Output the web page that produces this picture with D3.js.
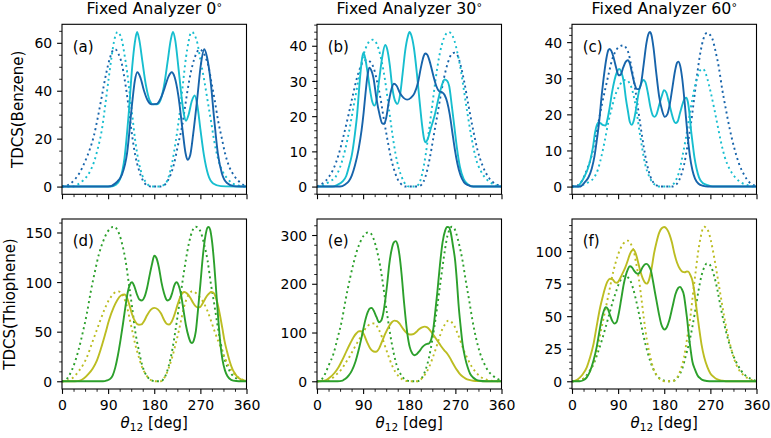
<!DOCTYPE html>
<html><head><meta charset="utf-8">
<script src="https://cdn.jsdelivr.net/npm/d3@7"></script>
<style>
body{margin:0;background:#fff}
svg{display:block}
text{font-family:"DejaVu Sans",sans-serif;fill:#000}
</style></head><body>
<svg id="chart" width="771" height="438"></svg>
<script>
// ---------------- DATA ----------------
const thetaTicks = [0, 90, 180, 270, 360];
const columnTitles = ["Fixed Analyzer 0", "Fixed Analyzer 30", "Fixed Analyzer 60"];
const rowLabels = ["TDCS(Benzene)", "TDCS(Thiophene)"];
const panelLetters = ["(a)", "(b)", "(c)", "(d)", "(e)", "(f)"];
const yTicksA = [0, 20, 40, 60];
const yTicksB = [0, 10, 20, 30, 40];
const yTicksC = [0, 10, 20, 30, 40];
const yTicksD = [0, 50, 100, 150];
const yTicksE = [0, 100, 200, 300];
const yTicksF = [0, 25, 50, 75, 100];

// (a) Benzene, analyzer 0 deg  [theta, TDCS]
const aBlueSolid = [[0,0],[90,0],[105,1.5],[117,5],[127,14],[137,35],[142,44],[147,47.7],[153,45.5],[160,40],[167,36],[175,34.3],[185,34.5],[193,37],[200,41],[208,46],[214,47.7],[220,45.5],[227,38],[235,24],[241,14],[245,11.2],[250,13],[256,22],[264,37],[271,51],[277.5,57.3],[283,54],[290,44],[297,28],[304,14],[312,5.5],[322,1.5],[335,0.2],[360,0]];
const aCyanSolid = [[0,0],[95,0],[105,0.8],[113,3],[122,12],[130,30],[137,50],[142,60],[146.5,64.5],[151,61],[157,52],[164,42],[171,36],[178,34.3],[185,34.3],[192,36],[199,42],[206,52],[212,61],[216.5,64.5],[221,61],[227,50],[233,38],[238,30],[242,27.5],[247,30],[253,35.5],[259,38],[264,34],[270,24],[277,13],[285,5],[295,1.3],[310,0.2],[360,0]];
const aBlueDot = [[0,0],[5,0.2],[15,1],[25,3],[35,6],[45,10.5],[55,16],[62,21],[70,29],[78,38],[86,47],[94,54],[100,57],[104,57.3],[110,55.5],[117,51],[122,45],[127,38],[132,29.5],[137,21],[143,13],[150,7],[158,2.5],[166,0.5],[175,0],[190,0],[198,0.4],[205,2],[212,5],[218,9],[226,17],[235,26],[242,36],[248,44],[255,51],[262,55.5],[268,57.3],[274,56.5],[280,54],[286,50],[292,43],[298,36],[305,27],[312,20],[318,14],[326,8.5],[336,4.5],[346,2],[355,0.6],[360,0.3]];
const aCyanDot = [[0,0],[20,0],[30,0.8],[40,2.3],[45,3.3],[55,6.5],[62,10],[70,16],[78,24],[85,35],[91,45],[96,53],[101,60],[105,63.5],[108.5,64.5],[112,63.8],[117,61],[122,55],[127,48],[132,39],[137,30],[143,19],[150,10],[157,4.5],[163,2],[170,0.4],[176,0],[189,0],[195,0.3],[202,1.2],[208,4],[215,10],[222,19],[228,28],[235,41],[242,54],[247,60.5],[251,64],[254,64.5],[258,63.5],[264,60],[270,53],[277,45],[284,36],[291,27],[297,19],[304,12],[313,6.5],[323,3.3],[333,1.3],[343,0.5],[355,0],[360,0]];

// (b) Benzene, analyzer 30 deg
const bBlueSolid = [[0,0],[45,0],[55,0.6],[62,1.5],[68,3.2],[74,6],[81,10.5],[87,16],[91,21],[95,27],[98.5,31.5],[102,33.8],[106,33],[110,31],[116,25],[122,20.5],[127,18],[131,17.8],[135,19.5],[140,24],[145,27.5],[150,29.2],[155,28.7],[162,26.5],[169,25.2],[176,24.7],[183,25.2],[190,26.5],[197,29.5],[203,34],[208,37],[211,37.8],[215,37.5],[220,35.5],[227,31.5],[233,28.5],[239,27],[244,26.8],[249,26],[254,24],[259,20.5],[264,15.5],[269,10.5],[274,6.5],[280,3.2],[287,1.2],[295,0.4],[305,0],[360,0]];
const bCyanSolid = [[0,0],[30,0],[40,0.5],[50,1.5],[57,3],[63,6],[68,9],[74,15],[78,20],[84,31],[88,36.5],[90.5,38],[94,36.5],[98,33],[104,27],[108,24],[112,23],[116,24.5],[121,30],[127,36.5],[133,40.2],[137,39],[142,34.5],[147,28],[152,24.5],[157,23.5],[162,26],[167,32],[172,38.5],[177,42.5],[180.5,43.9],[184,43],[189,39.5],[195,32],[200,24.5],[205,17.5],[209,13.5],[212,12.6],[216,13.5],[222,16.5],[230,20.5],[237,25],[243,28.5],[249,30.4],[254,30],[258,28.5],[263,23],[268,17],[273,11],[279,5.5],[286,2.2],[295,0.6],[305,0],[360,0]];
const bBlueDot = [[0,0],[5,0.4],[12,1],[22,2.5],[32,5],[42,9],[52,14.5],[61.5,20.4],[70,26],[78,30.9],[85,34],[91,35.6],[98,36],[104,35.4],[110.6,33.7],[117,30],[124,25],[130,19.5],[137,13.7],[143,9],[150,5],[157,2.2],[163,0.9],[172,0],[195,0],[203,0.4],[212,3],[220,8],[228,14.7],[235,20.5],[241.5,26],[248,31],[255,35],[262,37.5],[268,38],[274,37.3],[281,34],[287,30],[295,23.5],[304,16.6],[313,10.5],[323,6],[333,3],[343,1.3],[352,0.5],[360,0.2]];
const bCyanDot = [[0,0],[5,0.1],[15,0.6],[25,1.5],[35,2.5],[45,5.5],[55,10.5],[63,16],[71,22.5],[78,28],[84,33],[91,37.5],[98,40.3],[104,41.5],[109,41.7],[115,41],[120,39.2],[127,35],[133,30],[140,22.5],[147,15],[153,9.5],[160,5],[166,2.5],[173,0.6],[180,0],[192,0],[199,0.8],[205,3.5],[212,9],[218,15.5],[225,23.2],[231,30],[238,36.6],[243,40],[248,42.3],[253,43.6],[257,43.9],[262,43.4],[268,41.5],[274,38],[281,32.8],[287,27],[294,20.4],[302,13.5],[310,8],[320,4.3],[330,2.2],[340,1],[350,0.3],[360,0]];

// (c) Benzene, analyzer 60 deg
const cBlueSolid = [[0,0],[15,0],[25,1.2],[32,2.5],[38.6,5],[44,8.5],[48,12.4],[53,18],[58,25.3],[63,31.5],[67,35.4],[71,37.8],[73.5,38.1],[77,37.5],[81,35.8],[86,33],[91,30.8],[95,31],[100,33],[105,34.6],[109,35],[113,34],[117,31.5],[122,28.5],[127,27],[131,27],[135,28.8],[140,34],[145,39.5],[149,42.2],[152,42.8],[155,42],[159,38.5],[164,32],[170,25],[176,21],[181,19.3],[186,20],[191,23],[196,27.5],[201,32],[205,34.3],[207.5,34.6],[211,33.5],[215,30],[220,23],[225,15],[230,8.5],[235,4.5],[240,2.2],[247,0.8],[256,0.2],[265,0],[360,0]];
const cCyanSolid = [[0,0],[10,0],[18,1.2],[25,3],[31,5],[36,7.5],[41,11],[45,15],[49,17.2],[52,17.8],[56,17.5],[61,17],[65.5,16.9],[69,18.5],[73,21.5],[78,26],[83,29.5],[88,31.8],[92,32.6],[96,31.8],[101,29],[105,24.5],[109,21],[113,17.8],[116.5,17.1],[120,18],[125,21.5],[130,26],[135,28.5],[139,29.5],[143,29],[148,26],[153,22],[158,19.6],[161,19.3],[165,20],[170,22.5],[175,25],[179.5,26.7],[184,26],[189,23.4],[194,20.5],[198,18.5],[202,17.6],[206,18],[211,20.5],[216,23],[220,24.4],[223,24.6],[226,23.5],[229,20.5],[232,16],[235,12.4],[239,8],[243,5],[248,2.5],[255,1],[264,0.4],[275,0],[360,0]];
const cBlueDot = [[0,0],[8,0.2],[15,0.7],[22,2.3],[30,5],[38.6,8.7],[45,13],[51.7,17.9],[58,22.5],[65,27.1],[72,31.5],[78,35],[85,37.5],[91,38.6],[96,39],[101,39.1],[106,38.3],[110.6,36.8],[115,33.8],[120,29.9],[127,23.5],[133.5,17],[140,11],[146.6,6],[153,2.8],[160,0.9],[167,0.2],[173,0],[195,0],[200,0.2],[205.5,0.9],[212,2.8],[218.6,6],[225,11],[231.7,17],[238,24],[244.8,31.7],[251,37.5],[256.5,40.9],[260,42.2],[264,42.6],[268,42.2],[274,40.9],[280,37.5],[287,32.6],[293,27],[300,21.6],[308,15.8],[316.8,10.6],[326,6.3],[336,3.2],[346,1.2],[356,0.3],[360,0.1]];
const cCyanDot = [[0,0],[15,0],[22,0.5],[32,1.2],[42,2.3],[50,4.5],[58,8.7],[65,13.5],[71,17.9],[78,22],[84.4,25.3],[91,27.5],[97.5,29],[103,29.5],[108,29.4],[113,28.4],[117,27],[122,24],[127,19.8],[132,15],[137,10.6],[143,6],[150,3],[157,1.2],[163,0.4],[172,0],[190,0],[196,0.4],[203,1.8],[209,4.1],[215,8],[222,13.3],[228,18.5],[235,24.4],[241,28.5],[246,30.8],[250,32.2],[254.6,32.6],[259,32],[264,29.9],[270,26.5],[277.5,21.6],[284,17],[290.6,12.4],[298,8.2],[307,5],[317,2.8],[327,1.4],[340,0.5],[355,0],[360,0]];

// (d) Thiophene, analyzer 0 deg
const dGreenSolid = [[0,0],[80,0],[88,1],[94,2.4],[99,6],[104,14],[109,26],[114,41],[119,58],[124,76],[128,89],[132,97],[136.5,99.8],[141,96],[146,88],[151,82.5],[156,81.5],[161,85],[166,94],[171,107],[176,119],[180,126.5],[184,124.5],[189,115],[194,100],[199,89],[203,83],[206,81.5],[210,82.5],[215,89],[219,96.5],[223.5,99.8],[228,96],[232,88],[237,72],[242,56],[247,45],[251,39.5],[254,38.5],[257,41],[261,50],[265,70],[270,98],[275,127],[280,147],[284,155],[286,155.7],[289,153],[293,140],[297,118],[301,90],[305,62],[309,38],[313,22],[318,11],[323,5],[330,1.5],[340,0.3],[350,0],[360,0]];
const dOliveSolid = [[0,0],[25,0],[35,0.7],[43,3],[51.7,7.4],[60,13],[68,20.9],[76,33],[84.4,47.8],[92,62],[101,74.7],[108,82],[115,86.5],[122,87.5],[127,84],[132,76],[137,67],[143,60],[150,57],[155,57.3],[160,60.5],[166,66.5],[173,72],[180,74],[187,72.5],[193,68.5],[199,62],[204,58],[209,57.2],[214,60],[219,66.5],[226,78],[232,86.5],[238.5,90],[244,88.5],[250,84.5],[256,79],[261,75.5],[265,74.3],[270,75],[276,80],[282,85.5],[287,88.5],[291,90],[295,89.5],[300,84.8],[305,75],[309,64.6],[313,53],[317,41],[322,30],[327,20.5],[332,13],[336,9],[342,4.5],[349,2],[355,0.8],[360,0.3]];
const dGreenDot = [[0,0],[3,0.3],[9,2],[15.7,7.4],[24,17.5],[32,31],[40,48],[48.4,68],[56,90],[64.8,112],[72,128],[81,142],[88,150],[94,153.7],[99,155.6],[103,155.8],[107,153.5],[112,148],[118,137],[124,121.8],[130,100],[136.8,74.7],[143,50],[150,31],[156,17],[163,7.4],[170,2.5],[176,0.7],[182,0],[192,0],[197,1.5],[202,5.7],[208,15],[215,31],[221,50],[228,74.7],[235,100],[241.5,121.8],[248,140],[254.6,152],[258,155.2],[261,155.8],[265,155],[271,150],[277,139],[284,121.8],[290,100],[297,78],[303,58],[310,37.7],[318,21],[326.6,10.8],[335,4.6],[343,2.4],[352,0.8],[360,0.2]];
const dOliveDot = [[0,0],[9,0.3],[17,2],[25.5,5.7],[33,10.5],[42,17.5],[50,26],[58,37.7],[66,49],[74.6,61.2],[83,72.5],[91,81.4],[97,86],[102,89],[106,90.3],[110,90.6],[114,89.7],[118,87.5],[122,83],[127,74.7],[132,63],[137,51],[143,37],[150,24.2],[156,14.5],[163,7.4],[169,3],[176,0.7],[184,0],[193,0],[197,1.5],[202,5.7],[208,13],[215,24.2],[221,36],[228,51],[233,63],[238,74.7],[243,83],[248,88],[252,90.3],[255,90.8],[259,90],[264,87.5],[270,84],[276,79.5],[283,72],[290.6,61.2],[298,50],[307,37.7],[315,27],[323,17.5],[331,10.5],[339.7,5.7],[348,2.5],[355,1],[360,0.3]];

// (e) Thiophene, analyzer 30 deg
const eGreenSolid = [[0,0],[40,0],[50,1.5],[55,4.8],[62,12],[68,21.9],[75,40],[81,62.9],[88,95],[94,124.4],[99,142],[104,150],[107,150.5],[111,144],[116,132],[121,121],[125,124],[129,138],[133,165],[137,200],[141,240],[146,272],[150,285],[153.5,287.5],[157,281],[161,258],[165,220],[170,160],[176,100],[181,70],[186,57],[190,53.5],[195,56],[200,62],[206,70.5],[211,75],[215,76.5],[219,78],[223,86],[227,108],[231,145],[235,185],[240,240],[245,285],[250,309],[254,316.5],[257,316],[261,305],[265,280],[269.6,247],[273,205],[276,160],[280,115],[284,76.5],[289,48],[294,28.7],[299,15],[304,8.2],[310,3.5],[317,1],[330,0],[360,0]];
const eOliveSolid = [[0,0],[10,0.5],[18,2.5],[25.5,8.2],[34,17],[42,28.7],[50,45],[58,63],[65,78],[71,90],[77,98.5],[82,102.5],[86,102.5],[90,99],[97.5,81],[103,69],[108,62.5],[113,60.5],[117,61.5],[121,67],[127,82],[133,97],[140,112],[146,121],[151,124.5],[156,123.5],[162,117],[168,107.5],[175,99],[181,96],[187,96.5],[193,100.5],[199,106.5],[205,110.5],[210,112],[215,110.5],[221,104],[228,93.6],[235,83],[241.5,73],[248,64],[254.6,56],[260,47],[264,39],[269,30],[274,21.9],[279,14.5],[284,9.6],[290,5.5],[297,2.7],[305,1],[315,0.3],[330,0],[360,0]];
const eGreenDot = [[0,0],[5,1],[10,5],[15.7,15],[23,33],[32,56],[40,88],[48.4,124],[56,168],[64.8,213],[72,245],[78,268],[85,287],[91,298.6],[96,304],[101,305.5],[106,302],[110.6,291.8],[117,268],[123.7,233.7],[130,190],[136.8,138],[143,95],[150,56],[156,31],[163,15],[170,5],[176,1.5],[184,0],[196,0],[201,3],[205.5,8.2],[212,24],[218.6,49],[225,85],[231.7,131],[238,180],[244.8,233.7],[250,272],[254.6,298.6],[259,312],[263,317],[267,315],[271,305.5],[277,282],[284,247.4],[290,208],[297,165.4],[303,127],[310,90],[318,58],[326.6,35.5],[335,20],[343,11.6],[352,5],[360,1]];
const eOliveDot = [[0,0],[15,0.5],[23,2.5],[32,8.2],[40,16],[48.4,25.3],[56,38],[64.8,52.6],[72,67],[81,83.4],[88,96],[94,107.3],[99,113.5],[104,117.5],[108,118.8],[112,118.6],[116,114.5],[120,107.3],[127,90],[133.5,69.7],[140,50],[146.6,32],[153,19],[160,9.6],[167,3.5],[175,0.5],[184,0],[195,0],[200,2],[205.5,6.8],[212,16],[218.6,28.7],[225,46],[231.7,66.3],[238,87],[244.8,107.3],[250,117],[254,123],[256.5,124.5],[260,124],[264,119.5],[267.7,114],[274,99],[280.8,80],[287,62],[294,45.8],[302,30],[310,18.5],[318,10],[326.6,4.8],[335,1.8],[345,0.5],[360,0]];

// (f) Thiophene, analyzer 60 deg
const fGreenSolid = [[0,0],[15,0],[22,0.8],[28.8,3],[35,7.5],[42,15.9],[48,26],[53.7,38.9],[58,48],[62,54],[66,56.8],[70,55.5],[74,51],[79,46],[83,44.3],[87,45.5],[91,51.7],[96,63],[101,74.7],[105,81.5],[109,86],[113,88.3],[117,87.5],[121,85],[125,83.2],[129,82.6],[133,84],[138,87.8],[143,90],[146,90.2],[150,88.5],[154,85],[158,77],[162,68],[166,59.5],[170,51],[174,44],[178,40.5],[181,39.8],[185,41.5],[190,47],[196,57],[202,67],[207,71.5],[210.7,72.5],[214,71],[218.6,65.7],[222,56],[225,46.5],[228,35],[231.7,23.5],[235,15],[239.5,9.5],[245,4.5],[251,2],[258,0.6],[268,0],[360,0]];
const fOliveSolid = [[0,0],[5,0.3],[10,1.2],[15.7,3],[22,6],[28.8,10.7],[35,18],[42,28.6],[48,42],[55,56.8],[60,65],[64.8,72],[69,76.5],[74,78.8],[79,78.3],[84,76],[88,75.7],[92,77.5],[97,81.5],[104,87.5],[109,93],[113,97.7],[117,100.5],[120,101],[124,98.5],[128,93],[133,85],[138,79],[142,76],[146,75],[150,77.5],[155,86],[160,98],[165,107],[170,114],[175,117.5],[180,118.5],[185,117],[190,113],[195,106.5],[200,97.7],[205,91],[210.7,86.2],[216,84],[220,83.7],[224,84.3],[227,84.2],[231,81.5],[235,77.2],[239,68],[243.5,54.2],[248,41],[252.6,28.6],[258,18.5],[264.4,10.7],[270,6],[277.5,3],[285,1.2],[294,0.4],[305,0],[360,0]];
const fGreenDot = [[0,0],[10,0.3],[18,1.2],[25.5,3],[33,7],[42,13.3],[50,21.5],[58,31.2],[66,42],[74.6,54.2],[81,63],[87.7,70.8],[92,75.5],[97.5,79.3],[101,80.8],[104,81],[108,80.2],[113.9,77.2],[119,71.5],[123.7,64.4],[129,55],[134.8,44],[140,34],[146.6,23.5],[153,15],[160,8.2],[166,4],[172.8,1.8],[180,0.5],[190,0],[197,0.3],[202,1],[208,4],[215,9.5],[221,18],[228,28.6],[235,42],[241.5,56.8],[247,70],[252.6,81],[258,87.5],[263,90.5],[268,89.8],[272,87.5],[278,80],[284,69.6],[290,57],[297,44],[305,31.5],[313.5,21],[322,13.5],[330,8.2],[340,4],[349.5,1.8],[355,0.8],[360,0.4]];
const fOliveDot = [[0,0],[10,0.3],[20,1.5],[26,3],[32,5.6],[40,12],[48.4,23.5],[56,38],[64.8,54.2],[72,68],[81,84.9],[88,95],[94,101.5],[99,105],[104,107.4],[108,108],[112,107.6],[116,104.5],[120.4,100.3],[125,91],[130,79.8],[135,65],[140,49],[146,32],[153,18.4],[159,9.5],[166,4.3],[173,1.2],[180,0],[195,0],[200,0.8],[205.5,3],[212,9],[218.6,18.4],[225,34],[231.7,51.7],[236,67],[241.5,84.9],[246,99],[251,110.5],[255,117],[258,118.7],[261.5,118],[265.7,115.6],[271,108],[277.5,95],[284,80],[290.6,64.4],[297,49.5],[303.7,36.3],[312,23],[320,13.3],[328,7.5],[336,4.3],[345,1.8],[355,0.6],[360,0.3]];

// ---------------- STYLE / LAYOUT ----------------
const C_BLUE = "#1764ab", C_CYAN = "#17becf", C_GREEN = "#2ca02c", C_OLIVE = "#bcbd22";
const colX = [62, 317, 572], rowY = [24.3, 219], PW = 184.5, PH = 170;

const panels = [
  {col:0,row:0,yTicks:yTicksA,yMinor:5,  series:[[aBlueDot,C_BLUE,1],[aCyanDot,C_CYAN,1],[aCyanSolid,C_CYAN,0],[aBlueSolid,C_BLUE,0]]},
  {col:1,row:0,yTicks:yTicksB,yMinor:2,  series:[[bBlueDot,C_BLUE,1],[bCyanDot,C_CYAN,1],[bCyanSolid,C_CYAN,0],[bBlueSolid,C_BLUE,0]]},
  {col:2,row:0,yTicks:yTicksC,yMinor:2,  series:[[cBlueDot,C_BLUE,1],[cCyanDot,C_CYAN,1],[cCyanSolid,C_CYAN,0],[cBlueSolid,C_BLUE,0]]},
  {col:0,row:1,yTicks:yTicksD,yMinor:10, series:[[dGreenDot,C_GREEN,1],[dOliveDot,C_OLIVE,1],[dOliveSolid,C_OLIVE,0],[dGreenSolid,C_GREEN,0]]},
  {col:1,row:1,yTicks:yTicksE,yMinor:20, series:[[eGreenDot,C_GREEN,1],[eOliveDot,C_OLIVE,1],[eOliveSolid,C_OLIVE,0],[eGreenSolid,C_GREEN,0]]},
  {col:2,row:1,yTicks:yTicksF,yMinor:5,  series:[[fGreenDot,C_GREEN,1],[fOliveDot,C_OLIVE,1],[fOliveSolid,C_OLIVE,0],[fGreenSolid,C_GREEN,0]]}
];

const svg = d3.select("#chart");
const MAJ = 4.9, MIN = 2.8, PAD = 4.9;

panels.forEach((p, i) => {
  const x0 = colX[p.col], y0 = rowY[p.row];
  const g = svg.append("g").attr("transform", `translate(${x0},${y0})`);
  const ymax = d3.max(p.series, s => d3.max(s[0], d => d[1]));
  const x = d3.scaleLinear().domain([0, 360]).range([0, PW]);
  const y = d3.scaleLinear().domain([-0.05 * ymax, 1.05 * ymax]).range([PH, 0]);

  const clipId = "clip" + i;
  g.append("clipPath").attr("id", clipId).append("rect").attr("width", PW).attr("height", PH);
  const plot = g.append("g").attr("clip-path", `url(#${clipId})`);
  const line = d3.line().x(d => x(d[0])).y(d => y(d[1])).curve(d3.curveMonotoneX);
  p.series.forEach(([data, color, dotted]) => {
    plot.append("path").attr("d", line(data)).attr("fill", "none")
      .attr("stroke", color).attr("stroke-width", 1.9)
      .attr("stroke-dasharray", dotted ? "2,3.3" : null);
  });

  // minor ticks
  const [lo, hi] = y.domain();
  const yMinorVals = d3.range(Math.ceil(lo / p.yMinor) * p.yMinor, hi, p.yMinor)
    .filter(v => !p.yTicks.some(t => Math.abs(t - v) < 1e-9));
  const xMinorVals = d3.range(0, 360.01, 22.5).filter(v => !thetaTicks.includes(v));

  const axX = g.append("g").attr("transform", `translate(0,${PH})`)
    .call(d3.axisBottom(x).tickValues(thetaTicks).tickSize(MAJ).tickPadding(PAD)
      .tickFormat(p.row === 1 ? d3.format("d") : () => ""));
  const axXm = g.append("g").attr("transform", `translate(0,${PH})`)
    .call(d3.axisBottom(x).tickValues(xMinorVals).tickSize(MIN).tickFormat(() => ""));
  const axY = g.append("g")
    .call(d3.axisLeft(y).tickValues(p.yTicks).tickSize(MAJ).tickPadding(PAD).tickFormat(d3.format("d")));
  const axYm = g.append("g")
    .call(d3.axisLeft(y).tickValues(yMinorVals).tickSize(MIN).tickFormat(() => ""));
  [axX, axXm, axY, axYm].forEach(a => {
    a.select(".domain").remove();
    a.selectAll("line").attr("stroke", "#000");
    a.selectAll("text").attr("font-size", 14).attr("font-family", '"DejaVu Sans", sans-serif').attr("fill", "#000");
  });
  axX.selectAll("line").attr("stroke-width", 1.1);
  axY.selectAll("line").attr("stroke-width", 1.1);
  axXm.selectAll("line").attr("stroke-width", 0.85);
  axYm.selectAll("line").attr("stroke-width", 0.85);
  axX.selectAll("text").attr("dy", "0.78em");
  axY.selectAll("text").attr("dy", "0.36em");

  // frame
  g.append("rect").attr("width", PW).attr("height", PH).attr("fill", "none")
    .attr("stroke", "#000").attr("stroke-width", 1.1);

  // panel letter
  g.append("text").attr("x", 10.7).attr("y", 27.3).attr("font-size", 15).text(panelLetters[i]);

  // column title
  if (p.row === 0) {
    const t = svg.append("text").attr("x", x0 + PW / 2).attr("y", 14).attr("text-anchor", "middle")
      .attr("font-size", 15.8).text(columnTitles[p.col]);
    t.append("tspan").attr("font-size", 11).attr("dy", -3.5).text("°");
  }
  // x label
  if (p.row === 1) {
    const t = svg.append("text").attr("x", x0 + PW / 2).attr("y", 427.5).attr("text-anchor", "middle").attr("font-size", 15);
    t.append("tspan").attr("font-style", "italic").text("θ");
    t.append("tspan").attr("font-size", 10.5).attr("dy", 3).text("12");
    t.append("tspan").attr("dy", -3).text(" [deg]");
  }
  // y label
  if (p.col === 0) {
    const lx = p.row === 0 ? 22.7 : 14.7;
    svg.append("text").attr("transform", `translate(${lx},${y0 + PH / 2}) rotate(-90)`)
      .attr("text-anchor", "middle").attr("font-size", 15).text(rowLabels[p.row]);
  }
});
</script>
</body></html>
